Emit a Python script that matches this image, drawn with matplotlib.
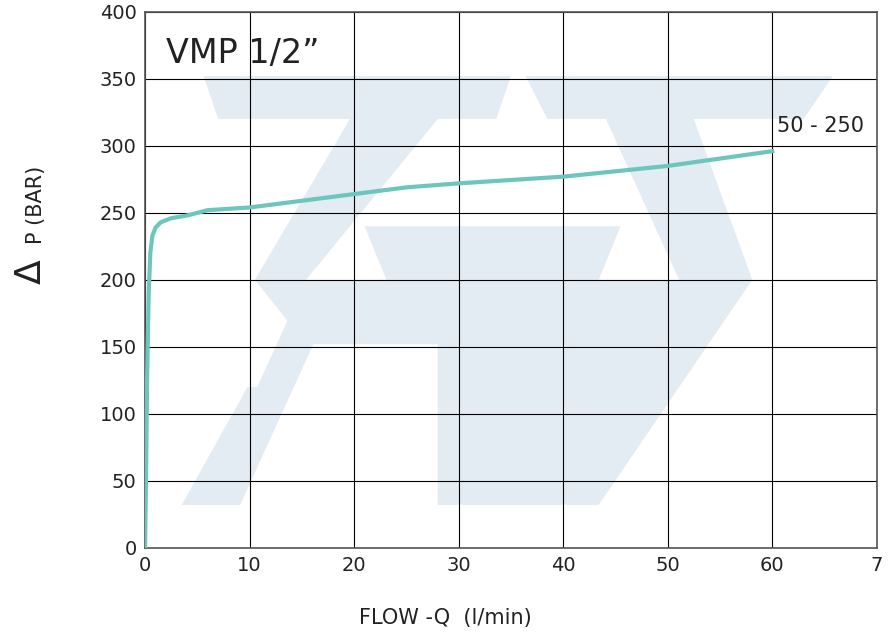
import matplotlib
matplotlib.use("Agg")
import matplotlib.pyplot as plt
from matplotlib.patches import Polygon

flow = [0, 0.1, 0.2, 0.35, 0.5, 0.7, 1.0, 1.5, 2.5, 4, 6, 8, 10, 15, 20, 25, 30, 40, 50, 60]
pressure = [0, 60, 130, 190, 220, 233, 239, 243, 246, 248, 252, 253, 254, 259, 264, 269, 272, 277, 285, 296]
x_ticks = [0, 10, 20, 30, 40, 50, 60, 70]
x_labels = ["0", "10", "20", "30", "40", "50", "60", "7"]
y_ticks = list(range(0, 401, 50))

fig = plt.figure(figsize=(8.9, 6.4), dpi=100)
ax = fig.add_axes([0.163, 0.144, 0.822, 0.8375])

# faint watermark logo (decorative, axes coords)
wm = "#e3ebf3"
shapes = [
    [(0.08, 0.88), (0.50, 0.88), (0.48, 0.80), (0.10, 0.80)],
    [(0.52, 0.88), (0.94, 0.88), (0.90, 0.80), (0.55, 0.80)],
    [(0.28, 0.80), (0.40, 0.80), (0.22, 0.50), (0.15, 0.50)],
    [(0.63, 0.80), (0.75, 0.80), (0.83, 0.50), (0.73, 0.50)],
    [(0.30, 0.60), (0.65, 0.60), (0.62, 0.50), (0.33, 0.50)],
    [(0.15, 0.50), (0.83, 0.50), (0.62, 0.08), (0.40, 0.08), (0.40, 0.43), (0.55, 0.43), (0.52, 0.38), (0.22, 0.38)],
    [(0.20, 0.44), (0.25, 0.44), (0.13, 0.08), (0.08, 0.08)],
    [(0.14, 0.30), (0.18, 0.30), (0.09, 0.08), (0.05, 0.08)],
]
for s in shapes:
    ax.add_patch(Polygon(s, closed=True, transform=ax.transAxes, color=wm, zorder=0, lw=0))

ax.plot(flow, pressure, color="#6cc6bd", lw=3, zorder=3)
ax.set_xlim(0, 70)
ax.set_ylim(0, 400)
ax.set_xticks(x_ticks)
ax.set_xticklabels(x_labels)
ax.set_yticks(y_ticks)
ax.grid(True, color="black", lw=0.8, zorder=1)
ax.set_axisbelow(True)
for sp in ax.spines.values():
    sp.set_color("#555555")
    sp.set_linewidth(1.2)
ax.tick_params(labelsize=14, length=0, pad=6, colors="#222222")

ax.text(2, 362, "VMP 1/2\u201d", fontsize=24, color="#222222")
ax.text(60.5, 310, "50 - 250", fontsize=15, color="#222222")
fig.text(0.5, 0.025, "FLOW -Q  (l/min)", fontsize=15, color="#222222", ha="center")
fig.text(0.035, 0.575, "\u0394", fontsize=26, rotation=90, va="center", ha="center", color="#222222")
fig.text(0.04, 0.68, "P (BAR)", fontsize=15, rotation=90, va="center", ha="center", color="#222222")

fig.savefig("out.png", dpi=100)
